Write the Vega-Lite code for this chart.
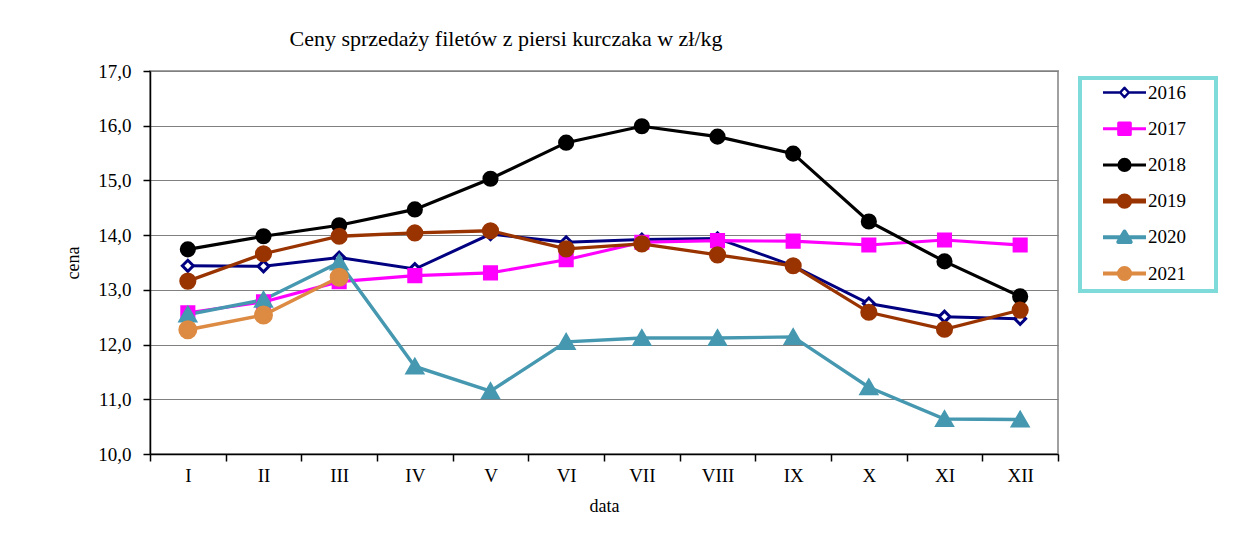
{
  "$schema": "https://vega.github.io/schema/vega-lite/v6.json",
  "width": 908,
  "height": 383,
  "autosize": {"type": "none"},
  "padding": {"left": 150, "top": 71, "right": 192, "bottom": 79},
  "background": "white",
  "title": {
    "text": "Ceny sprzedaży filetów z piersi kurczaka w zł/kg",
    "anchor": "middle",
    "frame": "group",
    "dx": -98,
    "offset": -6,
    "baseline": "alphabetic",
    "font": "Liberation Serif",
    "fontSize": 22,
    "fontWeight": "normal",
    "color": "black"
  },
  "data": {
    "values": [
      {"m": "I", "year": "2016", "v": 13.44}, {"m": "II", "year": "2016", "v": 13.43}, {"m": "III", "year": "2016", "v": 13.59}, {"m": "IV", "year": "2016", "v": 13.38}, {"m": "V", "year": "2016", "v": 14.02}, {"m": "VI", "year": "2016", "v": 13.87}, {"m": "VII", "year": "2016", "v": 13.92}, {"m": "VIII", "year": "2016", "v": 13.94}, {"m": "IX", "year": "2016", "v": 13.44}, {"m": "X", "year": "2016", "v": 12.75}, {"m": "XI", "year": "2016", "v": 12.51}, {"m": "XII", "year": "2016", "v": 12.47},
      {"m": "I", "year": "2017", "v": 12.58}, {"m": "II", "year": "2017", "v": 12.78}, {"m": "III", "year": "2017", "v": 13.15}, {"m": "IV", "year": "2017", "v": 13.26}, {"m": "V", "year": "2017", "v": 13.31}, {"m": "VI", "year": "2017", "v": 13.55}, {"m": "VII", "year": "2017", "v": 13.87}, {"m": "VIII", "year": "2017", "v": 13.90}, {"m": "IX", "year": "2017", "v": 13.89}, {"m": "X", "year": "2017", "v": 13.82}, {"m": "XI", "year": "2017", "v": 13.91}, {"m": "XII", "year": "2017", "v": 13.82},
      {"m": "I", "year": "2018", "v": 13.74}, {"m": "II", "year": "2018", "v": 13.98}, {"m": "III", "year": "2018", "v": 14.18}, {"m": "IV", "year": "2018", "v": 14.47}, {"m": "V", "year": "2018", "v": 15.03}, {"m": "VI", "year": "2018", "v": 15.69}, {"m": "VII", "year": "2018", "v": 15.99}, {"m": "VIII", "year": "2018", "v": 15.80}, {"m": "IX", "year": "2018", "v": 15.49}, {"m": "X", "year": "2018", "v": 14.25}, {"m": "XI", "year": "2018", "v": 13.52}, {"m": "XII", "year": "2018", "v": 12.88},
      {"m": "I", "year": "2019", "v": 13.16}, {"m": "II", "year": "2019", "v": 13.66}, {"m": "III", "year": "2019", "v": 13.98}, {"m": "IV", "year": "2019", "v": 14.04}, {"m": "V", "year": "2019", "v": 14.08}, {"m": "VI", "year": "2019", "v": 13.75}, {"m": "VII", "year": "2019", "v": 13.84}, {"m": "VIII", "year": "2019", "v": 13.64}, {"m": "IX", "year": "2019", "v": 13.44}, {"m": "X", "year": "2019", "v": 12.59}, {"m": "XI", "year": "2019", "v": 12.28}, {"m": "XII", "year": "2019", "v": 12.63},
      {"m": "I", "year": "2020", "v": 12.55}, {"m": "II", "year": "2020", "v": 12.82}, {"m": "III", "year": "2020", "v": 13.50}, {"m": "IV", "year": "2020", "v": 11.60}, {"m": "V", "year": "2020", "v": 11.15}, {"m": "VI", "year": "2020", "v": 12.05}, {"m": "VII", "year": "2020", "v": 12.12}, {"m": "VIII", "year": "2020", "v": 12.12}, {"m": "IX", "year": "2020", "v": 12.14}, {"m": "X", "year": "2020", "v": 11.22}, {"m": "XI", "year": "2020", "v": 10.64}, {"m": "XII", "year": "2020", "v": 10.63},
      {"m": "I", "year": "2021", "v": 12.27}, {"m": "II", "year": "2021", "v": 12.54}, {"m": "III", "year": "2021", "v": 13.23}
    ]
  },
  "encoding": {
    "x": {
      "field": "m",
      "type": "ordinal",
      "scale": {"type": "band", "domain": ["I", "II", "III", "IV", "V", "VI", "VII", "VIII", "IX", "X", "XI", "XII"], "paddingInner": 0, "paddingOuter": 0},
      "title": "data",
      "axis": {
        "tickBand": "extent",
        "labelAngle": 0,
        "grid": false,
        "domainColor": "black",
        "domainWidth": 1.5,
        "tickColor": "black",
        "tickWidth": 1.5,
        "tickSize": 7,
        "labelPadding": 5,
        "labelFont": "Liberation Serif",
        "labelFontSize": 19,
        "labelColor": "black",
        "titleFont": "Liberation Serif",
        "titleFontSize": 18,
        "titleFontWeight": "normal",
        "titleColor": "black",
        "titlePadding": 12
      }
    },
    "y": {
      "field": "v",
      "type": "quantitative",
      "scale": {"domain": [10, 17], "nice": false, "zero": false},
      "title": "cena",
      "axis": {
        "values": [10, 11, 12, 13, 14, 15, 16, 17],
        "labelExpr": "replace(format(datum.value, '.1f'), '.', ',')",
        "grid": true,
        "gridColor": "#808080",
        "gridWidth": 1,
        "gridOpacity": 1,
        "domainColor": "black",
        "domainWidth": 1.5,
        "tickColor": "black",
        "tickWidth": 1.5,
        "tickSize": 7,
        "labelPadding": 12,
        "labelFont": "Liberation Serif",
        "labelFontSize": 19,
        "labelColor": "black",
        "titleFont": "Liberation Serif",
        "titleFontSize": 18,
        "titleFontWeight": "normal",
        "titleColor": "black",
        "titlePadding": 15
      }
    }
  },
  "layer": [
    {
      "mark": {"type": "line"},
      "encoding": {
        "color": {
          "field": "year",
          "type": "nominal",
          "scale": {"domain": ["2016", "2017", "2018", "2019", "2020", "2021"], "range": ["#000080", "#FF00FF", "#000000", "#993300", "#4598B0", "#DD8A42"]},
          "legend": {
            "title": null,
            "orient": "none",
            "legendX": 930,
            "legendY": 7,
            "padding": 5,
            "symbolSize": 1849,
            "symbolOffset": 30,
            "rowPadding": 11.2,
            "labelOffset": 14,
            "labelFont": "Liberation Serif",
            "labelFontSize": 19,
            "labelColor": "black",
            "strokeColor": "#7fdada",
            "encode": {
              "legend": {"update": {"strokeWidth": {"value": 4}}},
              "symbols": {
                "update": {
                  "shape": {"signal": "datum.value == '2016' ? 'M0,-0.5M0,0.5M3.88,0M-1,0H-0.2M0.2,0H1M-0.2,0L0,-0.22L0.2,0L0,0.22Z' : datum.value == '2017' ? 'M0,-0.488M0,0.488M3.88,0M-1,0H1M-0.27,-0.27H0.27V0.27H-0.27Z' : datum.value == '2018' ? 'M0,-0.488M0,0.488M3.88,0M-1,0H1M-0.26,0A0.26,0.26 0 1,0 0.26,0A0.26,0.26 0 1,0 -0.26,0Z' : datum.value == '2019' ? 'M0,-0.442M0,0.442M3.88,0M-1,0H1M-0.24,0A0.24,0.24 0 1,0 0.24,0A0.24,0.24 0 1,0 -0.24,0Z' : datum.value == '2020' ? 'M0,-0.465M0,0.465M3.88,0M-1,0H1M-0.29,0.22L0,-0.27L0.29,0.22Z' : 'M0,-0.465M0,0.465M3.88,0M-1,0H1M-0.26,0A0.26,0.26 0 1,0 0.26,0A0.26,0.26 0 1,0 -0.26,0Z'"},
                  "fill": {"signal": "datum.value == '2016' ? 'white' : scale('color', datum.value)"},
                  "stroke": {"signal": "scale('color', datum.value)"},
                  "strokeWidth": {"signal": "datum.value == '2019' ? 5 : datum.value == '2016' ? 2.5 : datum.value == '2020' || datum.value == '2021' ? 4 : 3"},
                  "strokeJoin": {"value": "round"},
                  "opacity": {"value": 1}
                }
              }
            }
          }
        },
        "strokeWidth": {
          "field": "year",
          "type": "ordinal",
          "scale": {"range": [3, 3.5, 3, 5, 4.5, 4]},
          "legend": null
        }
      }
    },
    {
      "mark": {"type": "point", "opacity": 1},
      "encoding": {
        "fill": {
          "field": "year",
          "type": "nominal",
          "scale": {"range": ["#FFFFFF", "#FF00FF", "#000000", "#993300", "#4598B0", "#DD8A42"]},
          "legend": null
        },
        "stroke": {
          "field": "year",
          "type": "nominal",
          "scale": {"range": ["#000080", "#FF00FF", "#000000", "#993300", "#4598B0", "#DD8A42"]},
          "legend": null
        },
        "shape": {
          "field": "year",
          "type": "nominal",
          "scale": {"range": ["diamond", "square", "circle", "circle", "triangle-up", "circle"]},
          "legend": null
        },
        "size": {
          "field": "year",
          "type": "ordinal",
          "scale": {"range": [120, 240, 430, 225, 625, 470]},
          "legend": null
        },
        "strokeWidth": {
          "field": "year",
          "type": "ordinal",
          "scale": {"range": [1.5, 0, 0, 0, 0, 0]},
          "legend": null
        }
      }
    }
  ],
  "config": {
    "view": {"stroke": "#a0a0a0", "strokeWidth": 2},
    "legend": {"strokeWidth": 4}
  }
}
